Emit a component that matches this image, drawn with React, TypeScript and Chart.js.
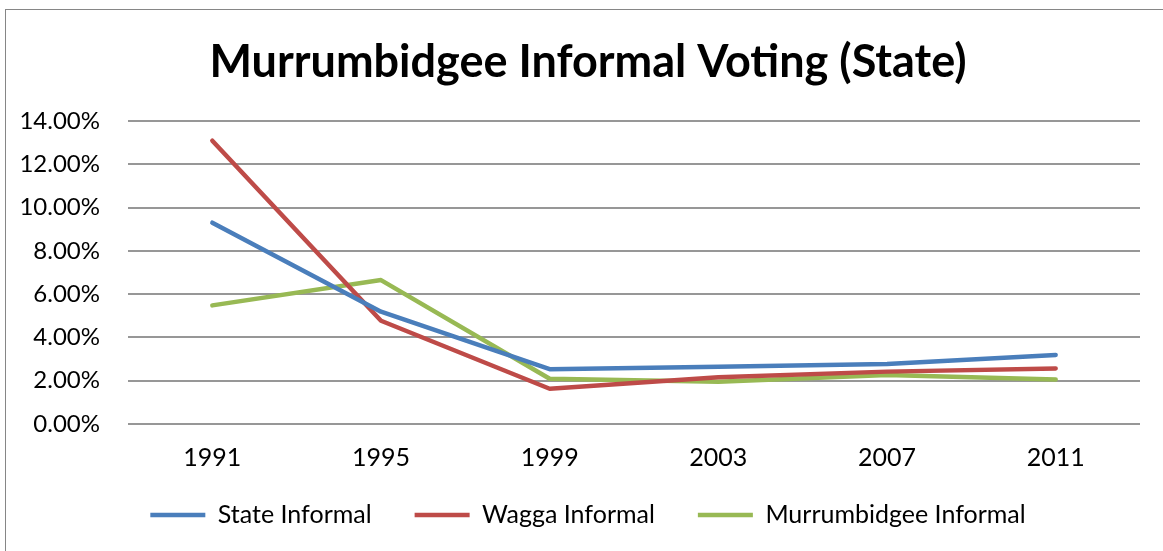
import React, { useEffect, useRef } from "react";
import { Chart, registerables } from "chart.js";

Chart.register(...registerables);

const titleText = "Murrumbidgee Informal Voting (State)";
const years = ["1991", "1995", "1999", "2003", "2007", "2011"];
const stateInformal = [9.3, 5.19, 2.53, 2.65, 2.77, 3.19];
const waggaInformal = [13.09, 4.77, 1.63, 2.16, 2.42, 2.57];
const murrumbidgeeInformal = [5.48, 6.65, 2.09, 1.95, 2.26, 2.06];
const seriesNames = ["State Informal", "Wagga Informal", "Murrumbidgee Informal"];
const seriesColors = ["#4A7EBB", "#BE4B48", "#98B954"];
const yMin = 0;
const yMax = 14;
const yStep = 2;

const FONT = "Lato, 'Open Sans', sans-serif";

// Shift the legend's drawing up so that its wide horizontal spacing
// does not also push it down.
const legendShiftPlugin = {
  id: "legendShift",
  beforeInit(chart: any) {
    const legend = chart.legend;
    if (!legend || legend.__shifted) return;
    const origDraw = legend.draw;
    legend.draw = function (...args: any[]) {
      const ctx = this.ctx;
      ctx.save();
      ctx.translate(0, -32.5);
      origDraw.apply(this, args);
      ctx.restore();
    };
    legend.__shifted = true;
  },
};

export default function App() {
  const canvasRef = useRef<HTMLCanvasElement | null>(null);

  useEffect(() => {
    const canvas = canvasRef.current;
    if (!canvas) return;
    const seriesValues = [stateInformal, waggaInformal, murrumbidgeeInformal];
    const chart = new Chart(canvas, {
      type: "line",
      data: {
        labels: years,
        datasets: seriesValues.map((vals, i) => ({
          label: seriesNames[i],
          data: vals,
          yAxisID: "y",
          borderColor: seriesColors[i],
          backgroundColor: seriesColors[i],
          borderWidth: 4.5,
          borderCapStyle: "round" as const,
          borderJoinStyle: "round" as const,
          pointRadius: 0,
          pointHoverRadius: 0,
          tension: 0,
          fill: false,
        })),
      },
      plugins: [legendShiftPlugin],
      options: {
        animation: false,
        responsive: false,
        maintainAspectRatio: false,
        events: [],
        layout: { padding: { left: 0, right: 0, top: 0, bottom: 0 } },
        plugins: {
          title: {
            display: true,
            text: titleText,
            color: "#000",
            font: { family: FONT, size: 45, weight: "bold" },
            padding: { top: 25, bottom: 32 },
          },
          legend: {
            display: true,
            position: "bottom",
            labels: {
              color: "#000",
              font: { family: FONT, size: 25 },
              usePointStyle: true,
              pointStyle: "line",
              pointStyleWidth: 55,
              padding: 43,
            },
          },
          tooltip: { enabled: false },
        },
        scales: {
          x: {
            offset: true,
            grid: { display: false, drawTicks: false },
            border: { display: false },
            ticks: {
              color: "#000",
              font: { family: FONT, size: 25 },
              padding: 19,
              maxRotation: 0,
            },
          },
          y: {
            min: yMin,
            max: yMax,
            position: "left",
            grid: { color: "#979797", lineWidth: 2, drawTicks: false },
            border: { display: false },
            ticks: {
              stepSize: yStep,
              color: "#000",
              font: { family: FONT, size: 24 },
              padding: 28,
              callback: (v: any) => Number(v).toFixed(2) + "%",
            },
            afterFit: (scale: any) => {
              scale.width = 122;
            },
          },
          yRight: {
            type: "linear",
            position: "right",
            display: true,
            grid: { display: false, drawTicks: false },
            border: { display: false },
            ticks: { display: false },
            afterFit: (scale: any) => {
              scale.width = 30;
            },
          },
        },
      },
    });
    return () => chart.destroy();
  }, []);

  return (
    <div
      style={{
        position: "fixed",
        left: 0,
        top: 0,
        width: 1163,
        height: 551,
        overflow: "hidden",
        background: "#fff",
      }}
    >
      <div
        style={{
          position: "absolute",
          left: 5,
          top: 9,
          width: 1200,
          height: 600,
          border: "1px solid #868686",
        }}
      />
      <canvas
        ref={canvasRef}
        width={1164}
        height={560}
        style={{ position: "absolute", left: 6, top: 10, width: 1164, height: 560 }}
      />
    </div>
  );
}
